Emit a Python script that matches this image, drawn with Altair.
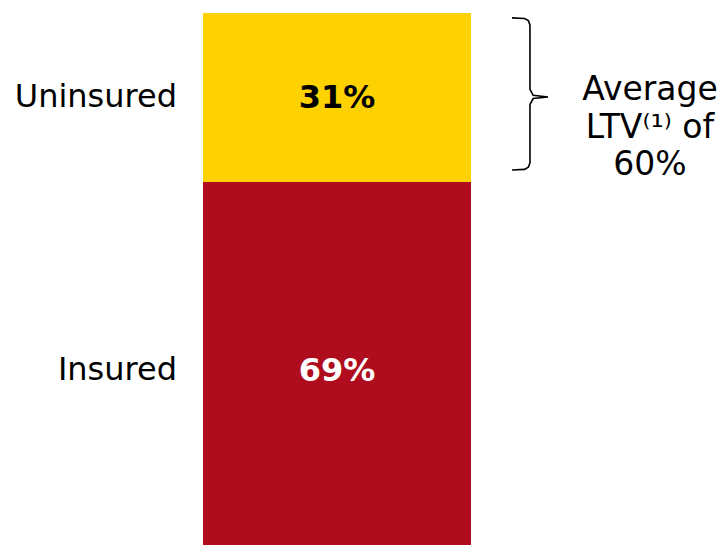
import altair as alt
import pandas as pd

categories = ["Insured", "Uninsured"]
shares = [69, 31]
bar_colors = ["#AF0D1E", "#FDD200"]
value_text_colors = ["#FFFFFF", "#000000"]

note_lines = ["Average", "LTV⁽¹⁾ of", "60%"]
note_line_y = [85.9, 78.9, 72.1]

# bracket outline (x in bar-width units, y in percent)
bracket_x = [1.153, 1.200, 1.214, 1.220, 1.220, 1.232, 1.287, 1.232, 1.220, 1.220, 1.214, 1.200, 1.153]
bracket_y = [99.1, 99.0, 98.6, 97.8, 86.0, 84.9, 84.6, 84.3, 83.2, 72.5, 71.7, 71.3, 71.2]

lo, hi = [], []
acc = 0
for s in shares:
    lo.append(acc)
    acc += s
    hi.append(acc)

df = pd.DataFrame({
    "cat": categories,
    "share": shares,
    "lo": lo,
    "hi": hi,
    "mid": [(a + b) / 2 for a, b in zip(lo, hi)],
    "label": [f"{s}%" for s in shares],
    "tc": value_text_colors,
    "x0": [0] * len(shares),
    "x1": [1] * len(shares),
    "xm": [0.5] * len(shares),
})

xs = alt.Scale(domain=[0, 1])
ys = alt.Scale(domain=[0, 100])

bars = alt.Chart(df).mark_rect().encode(
    x=alt.X("x0:Q", scale=xs, axis=None),
    x2="x1:Q",
    y=alt.Y("lo:Q", scale=ys, axis=None),
    y2="hi:Q",
    color=alt.Color("cat:N", scale=alt.Scale(domain=categories, range=bar_colors), legend=None),
)

values = alt.Chart(df).mark_text(font="DejaVu Sans", fontSize=32, fontWeight="bold", dy=1).encode(
    x=alt.X("xm:Q", scale=xs),
    y=alt.Y("mid:Q", scale=ys),
    text="label:N",
    color=alt.Color("tc:N", scale=None),
)

cat_labels = alt.Chart(df).mark_text(font="DejaVu Sans", fontSize=32, align="right", color="#000000").encode(
    x=alt.value(-26),
    y=alt.Y("mid:Q", scale=ys),
    text="cat:N",
)

bdf = pd.DataFrame({"bx": bracket_x, "by": bracket_y, "o": list(range(len(bracket_x)))})
bracket = alt.Chart(bdf).mark_line(color="#000000", strokeWidth=1.6, clip=False).encode(
    x=alt.X("bx:Q", scale=xs),
    y=alt.Y("by:Q", scale=ys),
    order="o:Q",
)

ndf = pd.DataFrame({"t": note_lines, "ny": note_line_y, "nx": [1.668] * len(note_lines)})
note = alt.Chart(ndf).mark_text(font="DejaVu Sans", fontSize=33, align="center", baseline="middle", color="#000000").encode(
    x=alt.X("nx:Q", scale=xs),
    y=alt.Y("ny:Q", scale=ys),
    text="t:N",
)

chart = alt.layer(bars, values, cat_labels, bracket, note).properties(
    width=268,
    height=545,
    autosize=alt.AutoSizeParams(type="none"),
    padding={"left": 195, "top": 5, "right": 247, "bottom": 0},
).configure_view(stroke=None)

chart.save("out.html", embed_options={"renderer": "svg", "actions": False})
